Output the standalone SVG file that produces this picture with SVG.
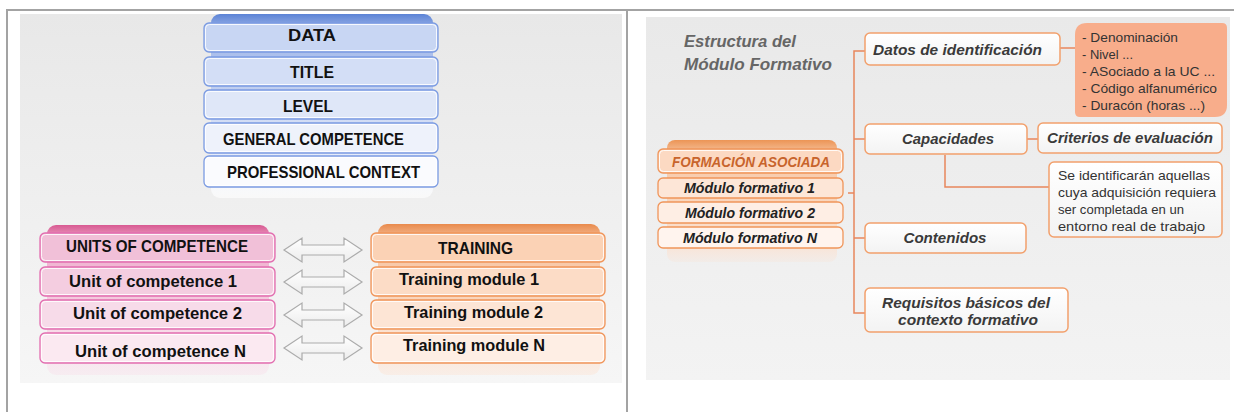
<svg xmlns="http://www.w3.org/2000/svg" width="1234" height="412" viewBox="0 0 1234 412">
<defs>
<linearGradient id="bgL" x1="0" y1="0" x2="0" y2="1"><stop offset="0" stop-color="#e8e8e8"/><stop offset="1" stop-color="#f6f6f6"/></linearGradient>
<linearGradient id="bgR" x1="0" y1="0" x2="0" y2="1"><stop offset="0" stop-color="#e9e9e9"/><stop offset="1" stop-color="#f3f3f3"/></linearGradient>
<linearGradient id="hdB" x1="0" y1="0" x2="0" y2="1"><stop offset="0" stop-color="#5b83d6"/><stop offset="0.08" stop-color="#9db4e8"/><stop offset="0.9" stop-color="#f4f7fd"/><stop offset="1" stop-color="#ffffff" stop-opacity="0.6"/></linearGradient>
<linearGradient id="hdP" x1="0" y1="0" x2="0" y2="1"><stop offset="0" stop-color="#d85a92"/><stop offset="0.1" stop-color="#eeaacb"/><stop offset="0.85" stop-color="#fae6ef"/><stop offset="1" stop-color="#f7e3ec" stop-opacity="0.5"/></linearGradient>
<linearGradient id="hdO" x1="0" y1="0" x2="0" y2="1"><stop offset="0" stop-color="#e98a4c"/><stop offset="0.1" stop-color="#f6c19c"/><stop offset="0.85" stop-color="#fde9dc"/><stop offset="1" stop-color="#fbe6d9" stop-opacity="0.5"/></linearGradient>
<linearGradient id="hdO2" x1="0" y1="0" x2="0" y2="1"><stop offset="0" stop-color="#ec9556"/><stop offset="0.12" stop-color="#f7c7a5"/><stop offset="0.85" stop-color="#fbe3d3"/><stop offset="1" stop-color="#f6e6dc" stop-opacity="0.4"/></linearGradient>
<linearGradient id="boxR" x1="0" y1="0" x2="0" y2="1"><stop offset="0" stop-color="#ffffff"/><stop offset="1" stop-color="#f3f3f3"/></linearGradient>
<linearGradient id="arr" x1="0" y1="0" x2="0" y2="1"><stop offset="0" stop-color="#ffffff"/><stop offset="1" stop-color="#ececec"/></linearGradient>
<path id="dblArrow" d="M284,0 L302,-12 L302,-5 L344,-5 L344,-12 L362,0 L344,12 L344,5 L302,5 L302,12 Z"/>
</defs>
<style>
.frame{stroke:#a3a3a3;stroke-width:2;fill:none}
.lbl{font-family:"Liberation Sans",Arial,sans-serif;font-weight:bold;font-size:17px;fill:#111}
.bB{stroke:#7b9be2;stroke-width:1.3}
.bP{stroke:#e26eb0;stroke-width:1.3}
.bO{stroke:#f0955a;stroke-width:1.3}
.inner{fill:none;stroke:#ffffff;stroke-opacity:0.85;stroke-width:1}
.rb{font-family:"Liberation Sans",Arial,sans-serif;font-weight:bold;font-style:italic;font-size:15px;fill:#3a3a3a}
.ttl{font-family:"Liberation Sans",Arial,sans-serif;font-weight:bold;font-style:italic;font-size:17px;fill:#666666}
.mf{font-family:"Liberation Sans",Arial,sans-serif;font-weight:bold;font-style:italic;font-size:14px;fill:#222}
.rt{font-family:"Liberation Sans",Arial,sans-serif;font-size:13px;fill:#333}
.rbox{fill:url(#boxR);stroke:#f2a06c;stroke-width:1.5}
.con{stroke:#e8865c;stroke-width:1.5;fill:none}
.arw{fill:url(#arr);stroke:#ababab;stroke-width:1.2}
</style>

<!-- frame -->
<line class="frame" x1="6" y1="10" x2="1234" y2="10"/>
<line class="frame" x1="7" y1="10" x2="7" y2="412"/>
<line class="frame" x1="627" y1="10" x2="627" y2="412"/>

<!-- backgrounds -->
<rect x="20" y="14" width="602" height="369" fill="url(#bgL)"/>
<rect x="646" y="17" width="584" height="363" fill="url(#bgR)"/>

<!-- Left: data stack -->
<g id="data-stack">
<rect x="211" y="14" width="222" height="184" rx="9" fill="url(#hdB)"/>
<g id="node-data">
<rect class="bB" x="204" y="23" width="234" height="29" rx="5" fill="#c8d6f3"/>
<rect class="inner" x="205.5" y="24.5" width="231" height="26" rx="4"/>
<text class="lbl" x="312" y="41" text-anchor="middle" textLength="48" lengthAdjust="spacingAndGlyphs">DATA</text>
</g>
<g id="node-title">
<rect class="bB" x="204" y="57" width="234" height="29" rx="5" fill="#d3def6"/>
<rect class="inner" x="205.5" y="58.5" width="231" height="26" rx="4"/>
<text class="lbl" x="312" y="78" text-anchor="middle" textLength="44" lengthAdjust="spacingAndGlyphs">TITLE</text>
</g>
<g id="node-level">
<rect class="bB" x="204" y="90" width="234" height="29" rx="5" fill="#dfe7f8"/>
<rect class="inner" x="205.5" y="91.5" width="231" height="26" rx="4"/>
<text class="lbl" x="308" y="112" text-anchor="middle" textLength="50" lengthAdjust="spacingAndGlyphs">LEVEL</text>
</g>
<g id="node-general">
<rect class="bB" x="204" y="123" width="234" height="30" rx="5" fill="#eef2fb"/>
<rect class="inner" x="205.5" y="124.5" width="231" height="27" rx="4"/>
<text class="lbl" x="223" y="145" textLength="181" lengthAdjust="spacingAndGlyphs">GENERAL COMPETENCE</text>
</g>
<g id="node-professional">
<rect class="bB" x="204" y="156" width="234" height="31" rx="5" fill="#fafbfe"/>
<rect class="inner" x="205.5" y="157.5" width="231" height="28" rx="4"/>
<text class="lbl" x="227" y="178" textLength="193" lengthAdjust="spacingAndGlyphs">PROFESSIONAL CONTEXT</text>
</g>
</g>

<!-- Left: units stack -->
<g id="units-stack">
<rect x="47" y="225" width="222" height="150" rx="9" fill="url(#hdP)"/>
<g id="node-units">
<rect class="bP" x="40" y="233" width="235" height="29" rx="5" fill="#f1c0d8"/>
<rect class="inner" x="41.5" y="234.5" width="232" height="26" rx="4"/>
<text class="lbl" x="66" y="252" textLength="182" lengthAdjust="spacingAndGlyphs">UNITS OF COMPETENCE</text>
</g>
<g id="node-unit1">
<rect class="bP" x="40" y="267" width="235" height="29" rx="5" fill="#f4cde0"/>
<rect class="inner" x="41.5" y="268.5" width="232" height="26" rx="4"/>
<text class="lbl" x="69" y="287" textLength="168" lengthAdjust="spacingAndGlyphs">Unit of competence 1</text>
</g>
<g id="node-unit2">
<rect class="bP" x="40" y="300" width="235" height="29" rx="5" fill="#f7dbe9"/>
<rect class="inner" x="41.5" y="301.5" width="232" height="26" rx="4"/>
<text class="lbl" x="73" y="319" textLength="169" lengthAdjust="spacingAndGlyphs">Unit of competence 2</text>
</g>
<g id="node-unitN">
<rect class="bP" x="40" y="333" width="235" height="30" rx="5" fill="#fbe9f1"/>
<rect class="inner" x="41.5" y="334.5" width="232" height="27" rx="4"/>
<text class="lbl" x="75" y="357" textLength="171" lengthAdjust="spacingAndGlyphs">Unit of competence N</text>
</g>
</g>

<!-- Left: training stack -->
<g id="training-stack">
<rect x="378" y="224" width="222" height="151" rx="9" fill="url(#hdO)"/>
<g id="node-training">
<rect class="bO" x="371" y="233" width="234" height="29" rx="5" fill="#fbd2b5"/>
<rect class="inner" x="372.5" y="234.5" width="231" height="26" rx="4"/>
<text class="lbl" x="438" y="254" textLength="75" lengthAdjust="spacingAndGlyphs">TRAINING</text>
</g>
<g id="node-tm1">
<rect class="bO" x="371" y="267" width="234" height="29" rx="5" fill="#fcdcc6"/>
<rect class="inner" x="372.5" y="268.5" width="231" height="26" rx="4"/>
<text class="lbl" x="399" y="285" textLength="140" lengthAdjust="spacingAndGlyphs">Training module 1</text>
</g>
<g id="node-tm2">
<rect class="bO" x="371" y="300" width="234" height="29" rx="5" fill="#fde5d5"/>
<rect class="inner" x="372.5" y="301.5" width="231" height="26" rx="4"/>
<text class="lbl" x="404" y="318" textLength="139" lengthAdjust="spacingAndGlyphs">Training module 2</text>
</g>
<g id="node-tmN">
<rect class="bO" x="371" y="333" width="234" height="30" rx="5" fill="#feeee4"/>
<rect class="inner" x="372.5" y="334.5" width="231" height="27" rx="4"/>
<text class="lbl" x="403" y="351" textLength="142" lengthAdjust="spacingAndGlyphs">Training module N</text>
</g>
</g>

<!-- Right: title -->
<g id="title-right">
<text class="ttl" x="684" y="47" textLength="112" lengthAdjust="spacingAndGlyphs">Estructura del</text>
<text class="ttl" x="684" y="70" textLength="148" lengthAdjust="spacingAndGlyphs">Módulo Formativo</text>
</g>

<!-- Right: formacion stack -->
<g id="formacion-stack">
<rect x="667" y="140" width="170" height="122" rx="8" fill="url(#hdO2)"/>
<g id="node-formacion">
<rect class="bO" x="658" y="149" width="185" height="24" rx="5" fill="#fcd9c2"/>
<rect class="inner" x="659.5" y="150.5" width="182" height="21" rx="4"/>
<text class="mf" x="672" y="167" style="fill:#c8642c" textLength="158" lengthAdjust="spacingAndGlyphs">FORMACIÓN ASOCIADA</text>
</g>
<g id="node-mf1">
<rect class="bO" x="658" y="178" width="185" height="20" rx="5" fill="#fde6d7"/>
<text class="mf" x="684" y="193" textLength="131" lengthAdjust="spacingAndGlyphs">Módulo formativo 1</text>
</g>
<g id="node-mf2">
<rect class="bO" x="658" y="202" width="185" height="21" rx="5" fill="#feeee4"/>
<text class="mf" x="685" y="218" textLength="130" lengthAdjust="spacingAndGlyphs">Módulo formativo 2</text>
</g>
<g id="node-mfN">
<rect class="bO" x="658" y="227" width="185" height="21" rx="5" fill="#fff4ee"/>
<text class="mf" x="683" y="243" textLength="134" lengthAdjust="spacingAndGlyphs">Módulo formativo N</text>
</g>
</g>

<!-- connectors -->
<g id="connectors">
<use href="#dblArrow" class="arw" transform="translate(0,250)"/>
<use href="#dblArrow" class="arw" transform="translate(0,282)"/>
<use href="#dblArrow" class="arw" transform="translate(0,315)"/>
<use href="#dblArrow" class="arw" transform="translate(0,348)"/>
<path class="con" d="M866,51 H854 V313 H866"/>
<path class="con" d="M854,139 H866"/>
<path class="con" d="M854,238 H866"/>
<path class="con" d="M848,193 H854"/>
<path class="con" d="M1060,48 H1076"/>
<path class="con" d="M1027,139 H1039"/>
<path class="con" d="M945,155 V187 H1050"/>
</g>

<!-- Right nodes -->
<g id="node-datos">
<rect class="rbox" x="865" y="33" width="195" height="32" rx="5"/>
<text class="rb" x="873" y="55" textLength="169" lengthAdjust="spacingAndGlyphs">Datos de identificación</text>
</g>
<g id="node-lista">
<path d="M1087,23 H1222 Q1227,23 1227,28 V105 Q1227,117 1215,117 H1080 Q1075,117 1075,112 V35 Q1075,23 1087,23 Z" fill="#f8ad8b"/>
<text class="rt" x="1082" y="42" textLength="96" lengthAdjust="spacingAndGlyphs">- Denominación</text>
<text class="rt" x="1082" y="59" textLength="51" lengthAdjust="spacingAndGlyphs">- Nivel ...</text>
<text class="rt" x="1082" y="76" textLength="133" lengthAdjust="spacingAndGlyphs">- ASociado a la UC ...</text>
<text class="rt" x="1082" y="93" textLength="135" lengthAdjust="spacingAndGlyphs">- Código alfanumérico</text>
<text class="rt" x="1082" y="110" textLength="123" lengthAdjust="spacingAndGlyphs">- Duracón (horas ...)</text>
</g>
<g id="node-capacidades">
<rect class="rbox" x="865" y="124" width="162" height="30" rx="5"/>
<text class="rb" x="948" y="144" text-anchor="middle" textLength="92" lengthAdjust="spacingAndGlyphs">Capacidades</text>
</g>
<g id="node-criterios">
<rect class="rbox" x="1038" y="123" width="184" height="30" rx="5"/>
<text class="rb" x="1047" y="143" textLength="166" lengthAdjust="spacingAndGlyphs">Criterios de evaluación</text>
</g>
<g id="node-nota">
<rect class="rbox" x="1049" y="162" width="173" height="75" rx="5"/>
<text class="rt" x="1058" y="180" textLength="152" lengthAdjust="spacingAndGlyphs">Se identificarán aquellas</text>
<text class="rt" x="1058" y="197" textLength="158" lengthAdjust="spacingAndGlyphs">cuya adquisición requiera</text>
<text class="rt" x="1058" y="214" textLength="126" lengthAdjust="spacingAndGlyphs">ser completada en un</text>
<text class="rt" x="1058" y="231" textLength="147" lengthAdjust="spacingAndGlyphs">entorno real de trabajo</text>
</g>
<g id="node-contenidos">
<rect class="rbox" x="865" y="223" width="161" height="30" rx="5"/>
<text class="rb" x="945" y="243" text-anchor="middle" textLength="83" lengthAdjust="spacingAndGlyphs">Contenidos</text>
</g>
<g id="node-requisitos">
<rect class="rbox" x="865" y="288" width="203" height="44" rx="5"/>
<text class="rb" x="966" y="308" text-anchor="middle" textLength="168" lengthAdjust="spacingAndGlyphs">Requisitos básicos del</text>
<text class="rb" x="968" y="325" text-anchor="middle" textLength="140" lengthAdjust="spacingAndGlyphs">contexto formativo</text>
</g>
</svg>
